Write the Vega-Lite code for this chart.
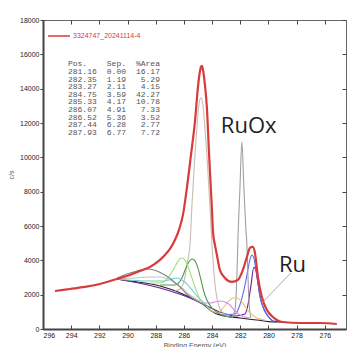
{
  "$schema": "https://vega.github.io/schema/vega-lite/v6.json",
  "width": 303,
  "height": 309,
  "autosize": "none",
  "padding": {"left": 43, "top": 20, "right": 1, "bottom": 18},
  "background": "white",
  "config": {
    "view": {"stroke": "#666", "strokeWidth": 1},
    "axis": {"labelFont": "Liberation Sans", "labelFontSize": 7, "labelColor": "#222", "titleFont": "Liberation Sans", "titleFontSize": 7, "titleFontWeight": "normal", "titleColor": "#444", "grid": false, "domainColor": "#444", "tickColor": "#444"}
  },
  "datasets": {
    "lines": [
      {"s": "3324747_20241114-4", "be": 295.15, "cps": 2215}, {"s": "3324747_20241114-4", "be": 294.09, "cps": 2332}, {"s": "3324747_20241114-4", "be": 293.02, "cps": 2449}, {"s": "3324747_20241114-4", "be": 291.96, "cps": 2624}, {"s": "3324747_20241114-4", "be": 290.75, "cps": 2915}, {"s": "3324747_20241114-4", "be": 289.83, "cps": 3148}, {"s": "3324747_20241114-4", "be": 289.12, "cps": 3381}, {"s": "3324747_20241114-4", "be": 288.41, "cps": 3615}, {"s": "3324747_20241114-4", "be": 287.70, "cps": 4023}, {"s": "3324747_20241114-4", "be": 287.35, "cps": 4314}, {"s": "3324747_20241114-4", "be": 286.99, "cps": 4664}, {"s": "3324747_20241114-4", "be": 286.64, "cps": 5189}, {"s": "3324747_20241114-4", "be": 286.35, "cps": 5772}, {"s": "3324747_20241114-4", "be": 286.07, "cps": 6646}, {"s": "3324747_20241114-4", "be": 285.79, "cps": 8220}, {"s": "3324747_20241114-4", "be": 285.50, "cps": 10144}, {"s": "3324747_20241114-4", "be": 285.22, "cps": 12068}, {"s": "3324747_20241114-4", "be": 285.01, "cps": 14050}, {"s": "3324747_20241114-4", "be": 284.87, "cps": 14983}, {"s": "3324747_20241114-4", "be": 284.79, "cps": 15275}, {"s": "3324747_20241114-4", "be": 284.72, "cps": 15333}, {"s": "3324747_20241114-4", "be": 284.65, "cps": 15100}, {"s": "3324747_20241114-4", "be": 284.51, "cps": 14225}, {"s": "3324747_20241114-4", "be": 284.37, "cps": 12884}, {"s": "3324747_20241114-4", "be": 284.23, "cps": 10436}, {"s": "3324747_20241114-4", "be": 284.16, "cps": 9270}, {"s": "3324747_20241114-4", "be": 284.01, "cps": 6938}, {"s": "3324747_20241114-4", "be": 283.94, "cps": 5655}, {"s": "3324747_20241114-4", "be": 283.80, "cps": 4897}, {"s": "3324747_20241114-4", "be": 283.66, "cps": 4314}, {"s": "3324747_20241114-4", "be": 283.45, "cps": 3440}, {"s": "3324747_20241114-4", "be": 283.09, "cps": 2973}, {"s": "3324747_20241114-4", "be": 282.60, "cps": 2740}, {"s": "3324747_20241114-4", "be": 282.17, "cps": 2857}, {"s": "3324747_20241114-4", "be": 281.82, "cps": 3440}, {"s": "3324747_20241114-4", "be": 281.53, "cps": 4198}, {"s": "3324747_20241114-4", "be": 281.32, "cps": 4722}, {"s": "3324747_20241114-4", "be": 281.11, "cps": 4781}, {"s": "3324747_20241114-4", "be": 280.96, "cps": 4431}, {"s": "3324747_20241114-4", "be": 280.75, "cps": 3032}, {"s": "3324747_20241114-4", "be": 280.47, "cps": 1866}, {"s": "3324747_20241114-4", "be": 280.11, "cps": 1108}, {"s": "3324747_20241114-4", "be": 279.69, "cps": 700}, {"s": "3324747_20241114-4", "be": 278.98, "cps": 408}, {"s": "3324747_20241114-4", "be": 277.77, "cps": 350}, {"s": "3324747_20241114-4", "be": 276.35, "cps": 350}, {"s": "3324747_20241114-4", "be": 275.15, "cps": 292},

      {"s": "bg", "be": 290.75, "cps": 2915}, {"s": "bg", "be": 289.83, "cps": 2798}, {"s": "bg", "be": 288.77, "cps": 2682}, {"s": "bg", "be": 287.70, "cps": 2507}, {"s": "bg", "be": 286.78, "cps": 2274}, {"s": "bg", "be": 285.93, "cps": 1982}, {"s": "bg", "be": 285.22, "cps": 1691}, {"s": "bg", "be": 284.65, "cps": 1458}, {"s": "bg", "be": 284.16, "cps": 1108}, {"s": "bg", "be": 283.45, "cps": 816}, {"s": "bg", "be": 282.03, "cps": 641}, {"s": "bg", "be": 280.82, "cps": 525}, {"s": "bg", "be": 279.69, "cps": 408}, {"s": "bg", "be": 278.98, "cps": 408},

      {"s": "purple", "be": 290.75, "cps": 2915}, {"s": "purple", "be": 287.70, "cps": 2390}, {"s": "purple", "be": 285.57, "cps": 1807}, {"s": "purple", "be": 284.37, "cps": 1341}, {"s": "purple", "be": 283.45, "cps": 991}, {"s": "purple", "be": 282.38, "cps": 758}, {"s": "purple", "be": 281.67, "cps": 875}, {"s": "purple", "be": 281.46, "cps": 1400}, {"s": "purple", "be": 281.25, "cps": 2500}, {"s": "purple", "be": 281.04, "cps": 3600}, {"s": "purple", "be": 280.89, "cps": 3400}, {"s": "purple", "be": 280.75, "cps": 2680}, {"s": "purple", "be": 280.61, "cps": 1924}, {"s": "purple", "be": 280.33, "cps": 1166}, {"s": "purple", "be": 280.04, "cps": 758}, {"s": "purple", "be": 279.69, "cps": 466}, {"s": "purple", "be": 278.98, "cps": 408},

      {"s": "281.16", "be": 283.45, "cps": 816}, {"s": "281.16", "be": 282.38, "cps": 875}, {"s": "281.16", "be": 282.03, "cps": 1399}, {"s": "281.16", "be": 281.74, "cps": 2274}, {"s": "281.16", "be": 281.53, "cps": 3148}, {"s": "281.16", "be": 281.32, "cps": 4023}, {"s": "281.16", "be": 281.18, "cps": 4314}, {"s": "281.16", "be": 281.04, "cps": 4139}, {"s": "281.16", "be": 280.89, "cps": 3440}, {"s": "281.16", "be": 280.75, "cps": 2682}, {"s": "281.16", "be": 280.61, "cps": 1924}, {"s": "281.16", "be": 280.33, "cps": 1166}, {"s": "281.16", "be": 280.04, "cps": 758}, {"s": "281.16", "be": 279.69, "cps": 466},

      {"s": "thin", "be": 282.60, "cps": 641}, {"s": "thin", "be": 282.38, "cps": 1108}, {"s": "thin", "be": 282.24, "cps": 3148}, {"s": "thin", "be": 282.17, "cps": 5189}, {"s": "thin", "be": 282.03, "cps": 8104}, {"s": "thin", "be": 281.89, "cps": 10902}, {"s": "thin", "be": 281.74, "cps": 8104}, {"s": "thin", "be": 281.60, "cps": 5772}, {"s": "thin", "be": 281.53, "cps": 4897}, {"s": "thin", "be": 281.46, "cps": 3148}, {"s": "thin", "be": 281.39, "cps": 1691}, {"s": "thin", "be": 281.25, "cps": 641},

      {"s": "282.35", "be": 284.16, "cps": 1108}, {"s": "282.35", "be": 283.59, "cps": 933}, {"s": "282.35", "be": 283.23, "cps": 1224}, {"s": "282.35", "be": 282.88, "cps": 1574}, {"s": "282.35", "be": 282.52, "cps": 1807}, {"s": "282.35", "be": 282.24, "cps": 1807}, {"s": "282.35", "be": 281.89, "cps": 1574}, {"s": "282.35", "be": 281.60, "cps": 1224}, {"s": "282.35", "be": 281.32, "cps": 933}, {"s": "282.35", "be": 280.82, "cps": 641}, {"s": "282.35", "be": 280.26, "cps": 525},

      {"s": "283.27", "be": 285.22, "cps": 1691}, {"s": "283.27", "be": 284.65, "cps": 1516}, {"s": "283.27", "be": 284.16, "cps": 1516}, {"s": "283.27", "be": 283.80, "cps": 1574}, {"s": "283.27", "be": 283.45, "cps": 1632}, {"s": "283.27", "be": 283.09, "cps": 1574}, {"s": "283.27", "be": 282.74, "cps": 1399}, {"s": "283.27", "be": 282.38, "cps": 1049}, {"s": "283.27", "be": 282.03, "cps": 816}, {"s": "283.27", "be": 281.32, "cps": 641},

      {"s": "284.75", "be": 286.64, "cps": 2215}, {"s": "284.75", "be": 286.28, "cps": 2332}, {"s": "284.75", "be": 286.00, "cps": 2740}, {"s": "284.75", "be": 285.79, "cps": 3731}, {"s": "284.75", "be": 285.57, "cps": 4897}, {"s": "284.75", "be": 285.43, "cps": 7229}, {"s": "284.75", "be": 285.22, "cps": 10144}, {"s": "284.75", "be": 285.08, "cps": 11718}, {"s": "284.75", "be": 284.94, "cps": 13059}, {"s": "284.75", "be": 284.79, "cps": 13467}, {"s": "284.75", "be": 284.65, "cps": 13059}, {"s": "284.75", "be": 284.51, "cps": 11718}, {"s": "284.75", "be": 284.37, "cps": 10144}, {"s": "284.75", "be": 284.16, "cps": 7229}, {"s": "284.75", "be": 284.01, "cps": 4897}, {"s": "284.75", "be": 283.87, "cps": 3323}, {"s": "284.75", "be": 283.73, "cps": 2157}, {"s": "284.75", "be": 283.52, "cps": 1341}, {"s": "284.75", "be": 283.23, "cps": 933}, {"s": "284.75", "be": 282.74, "cps": 700},

      {"s": "285.33", "be": 287.70, "cps": 2565}, {"s": "285.33", "be": 286.64, "cps": 2565}, {"s": "285.33", "be": 286.14, "cps": 2973}, {"s": "285.33", "be": 285.86, "cps": 3556}, {"s": "285.33", "be": 285.65, "cps": 3906}, {"s": "285.33", "be": 285.43, "cps": 4081}, {"s": "285.33", "be": 285.22, "cps": 3964}, {"s": "285.33", "be": 285.01, "cps": 3556}, {"s": "285.33", "be": 284.79, "cps": 2857}, {"s": "285.33", "be": 284.58, "cps": 2157}, {"s": "285.33", "be": 284.37, "cps": 1691}, {"s": "285.33", "be": 284.01, "cps": 1224}, {"s": "285.33", "be": 283.45, "cps": 875}, {"s": "285.33", "be": 282.74, "cps": 700},

      {"s": "286.07", "be": 288.41, "cps": 2682}, {"s": "286.07", "be": 287.70, "cps": 2682}, {"s": "286.07", "be": 287.21, "cps": 2915}, {"s": "286.07", "be": 286.85, "cps": 3323}, {"s": "286.07", "be": 286.57, "cps": 3731}, {"s": "286.07", "be": 286.28, "cps": 4081}, {"s": "286.07", "be": 286.14, "cps": 4139}, {"s": "286.07", "be": 285.93, "cps": 4023}, {"s": "286.07", "be": 285.72, "cps": 3673}, {"s": "286.07", "be": 285.50, "cps": 3148}, {"s": "286.07", "be": 285.29, "cps": 2624}, {"s": "286.07", "be": 285.08, "cps": 2157}, {"s": "286.07", "be": 284.87, "cps": 1749}, {"s": "286.07", "be": 284.51, "cps": 1399}, {"s": "286.07", "be": 284.16, "cps": 1108},

      {"s": "286.52", "be": 290.75, "cps": 2915}, {"s": "286.52", "be": 288.41, "cps": 2798}, {"s": "286.52", "be": 287.35, "cps": 2798}, {"s": "286.52", "be": 286.85, "cps": 2915}, {"s": "286.52", "be": 286.50, "cps": 2973}, {"s": "286.52", "be": 286.14, "cps": 2857}, {"s": "286.52", "be": 285.79, "cps": 2624}, {"s": "286.52", "be": 285.43, "cps": 2274}, {"s": "286.52", "be": 285.08, "cps": 1924}, {"s": "286.52", "be": 284.65, "cps": 1574}, {"s": "286.52", "be": 284.16, "cps": 1166},

      {"s": "287.44", "be": 290.75, "cps": 2915}, {"s": "287.44", "be": 289.48, "cps": 2973}, {"s": "287.44", "be": 288.41, "cps": 3032}, {"s": "287.44", "be": 287.70, "cps": 3032}, {"s": "287.44", "be": 287.13, "cps": 2915}, {"s": "287.44", "be": 286.64, "cps": 2682}, {"s": "287.44", "be": 286.14, "cps": 2390}, {"s": "287.44", "be": 285.57, "cps": 1982}, {"s": "287.44", "be": 284.87, "cps": 1632},

      {"s": "287.93", "be": 290.75, "cps": 2973}, {"s": "287.93", "be": 290.04, "cps": 3207}, {"s": "287.93", "be": 289.33, "cps": 3381}, {"s": "287.93", "be": 288.62, "cps": 3498}, {"s": "287.93", "be": 287.91, "cps": 3381}, {"s": "287.93", "be": 287.35, "cps": 3148}, {"s": "287.93", "be": 286.85, "cps": 2857}, {"s": "287.93", "be": 286.28, "cps": 2449}, {"s": "287.93", "be": 285.72, "cps": 1982}, {"s": "287.93", "be": 285.08, "cps": 1632}, {"s": "287.93", "be": 284.37, "cps": 1341}
    ],
    "table": [
      {"row": 0, "pos": "Pos.", "sep": "Sep.", "area": "%Area"},
      {"row": 1, "pos": "281.16", "sep": "0.00", "area": "16.17"},
      {"row": 2, "pos": "282.35", "sep": "1.19", "area": "5.29"},
      {"row": 3, "pos": "283.27", "sep": "2.11", "area": "4.15"},
      {"row": 4, "pos": "284.75", "sep": "3.59", "area": "42.27"},
      {"row": 5, "pos": "285.33", "sep": "4.17", "area": "10.78"},
      {"row": 6, "pos": "286.07", "sep": "4.91", "area": "7.33"},
      {"row": 7, "pos": "286.52", "sep": "5.36", "area": "3.52"},
      {"row": 8, "pos": "287.44", "sep": "6.28", "area": "2.77"},
      {"row": 9, "pos": "287.93", "sep": "6.77", "area": "7.72"}
    ],
    "labels": [
      {"label": "RuOx", "be": 283.38, "cps": 11427},
      {"label": "Ru", "be": 279.26, "cps": 3323}
    ],
    "pointer": [
      {"be": 278.41, "cps": 3265, "be2": 280.40, "cps2": 1574}
    ]
  },
  "resolve": {"scale": {"y": "independent", "color": "independent"}, "axis": {"x": "independent", "y": "independent"}},
  "layer": [
    {
      "data": {"name": "lines"},
      "transform": [{"filter": "datum.s !== '3324747_20241114-4'"}],
      "mark": {"type": "line", "strokeWidth": 1.1, "interpolate": "monotone"},
      "encoding": {
        "x": {"field": "be", "type": "quantitative", "scale": {"domain": [274.5, 296], "reverse": true, "nice": false, "zero": false},
              "axis": {"orient": "bottom", "values": [276, 278, 280, 282, 284, 286, 288, 290, 292, 294, 296], "title": "Binding Energy (eV)", "titleColor": "#555", "domainWidth": 2, "tickSize": -4, "labelPadding": 6, "titlePadding": 3}},
        "y": {"field": "cps", "type": "quantitative", "scale": {"domain": [0, 18000], "nice": false},
              "axis": {"orient": "left", "values": [0, 2000, 4000, 6000, 8000, 10000, 12000, 14000, 16000, 18000], "format": "d", "title": "c/s", "titleColor": "#555", "domainWidth": 2, "tickSize": 3, "labelPadding": 1, "titlePadding": 5}},
        "color": {"field": "s", "type": "nominal",
                  "scale": {"domain": ["bg", "purple", "281.16", "thin", "282.35", "283.27", "284.75", "285.33", "286.07", "286.52", "287.44", "287.93"],
                            "range": ["#222222", "#6a1b9a", "#5b6ee8", "#a0a0a0", "#e6c27a", "#e08ae8", "#c9bdb0", "#4f9a4f", "#9ee07a", "#6fd0d0", "#c8c8b8", "#808080"]},
                  "legend": null}
      }
    },
    {
      "data": {"name": "lines"},
      "transform": [{"filter": "datum.s === '3324747_20241114-4'"}],
      "mark": {"type": "line", "strokeWidth": 2.2, "interpolate": "monotone"},
      "encoding": {
        "x": {"field": "be", "type": "quantitative", "scale": {"domain": [274.5, 296], "reverse": true, "nice": false, "zero": false},
              "axis": {"orient": "top", "values": [276, 278, 280, 282, 284, 286, 288, 290, 292, 294, 296], "labels": false, "title": null, "domain": false, "tickSize": -4}},
        "y": {"field": "cps", "type": "quantitative", "scale": {"domain": [0, 18000], "nice": false},
              "axis": {"orient": "right", "values": [0, 2000, 4000, 6000, 8000, 10000, 12000, 14000, 16000, 18000], "labels": false, "title": null, "domain": false, "tickSize": -4}},
        "color": {"field": "s", "type": "nominal", "scale": {"range": ["#d93a3a"]},
                  "legend": {"orient": "top-left", "title": null, "symbolType": "stroke", "symbolSize": 480, "symbolStrokeWidth": 1.5, "labelFontSize": 7, "labelColor": "#d93a3a", "labelFont": "Liberation Sans", "offset": 4, "padding": 0, "labelOffset": 2, "labelLimit": 300}}
      }
    },
    {
      "data": {"name": "table"},
      "mark": {"type": "text", "align": "left", "baseline": "middle", "font": "Liberation Mono", "fontSize": 8, "color": "#555"},
      "encoding": {
        "x": {"datum": 294.23, "type": "quantitative", "axis": null},
        "y": {"field": "row", "type": "quantitative", "scale": {"domain": [-5.84, 34.82], "reverse": true, "nice": false, "zero": false}, "axis": null},
        "text": {"field": "pos"}
      }
    },
    {
      "data": {"name": "table"},
      "mark": {"type": "text", "align": "right", "baseline": "middle", "font": "Liberation Mono", "fontSize": 8, "color": "#555"},
      "encoding": {
        "x": {"datum": 290.11, "type": "quantitative", "axis": null},
        "y": {"field": "row", "type": "quantitative", "scale": {"domain": [-5.84, 34.82], "reverse": true, "nice": false, "zero": false}, "axis": null},
        "text": {"field": "sep"}
      }
    },
    {
      "data": {"name": "table"},
      "mark": {"type": "text", "align": "right", "baseline": "middle", "font": "Liberation Mono", "fontSize": 8, "color": "#555"},
      "encoding": {
        "x": {"datum": 287.70, "type": "quantitative", "axis": null},
        "y": {"field": "row", "type": "quantitative", "scale": {"domain": [-5.84, 34.82], "reverse": true, "nice": false, "zero": false}, "axis": null},
        "text": {"field": "area"}
      }
    },
    {
      "data": {"name": "pointer"},
      "mark": {"type": "rule", "color": "#999", "strokeWidth": 0.8},
      "encoding": {
        "x": {"field": "be", "type": "quantitative", "axis": null},
        "x2": {"field": "be2"},
        "y": {"field": "cps", "type": "quantitative", "scale": {"domain": [0, 18000], "nice": false}, "axis": null},
        "y2": {"field": "cps2"}
      }
    },
    {
      "data": {"name": "labels"},
      "mark": {"type": "text", "align": "left", "baseline": "alphabetic", "font": "Open Sans", "fontSize": 22, "color": "#222"},
      "encoding": {
        "x": {"field": "be", "type": "quantitative", "axis": null},
        "y": {"field": "cps", "type": "quantitative", "scale": {"domain": [0, 18000], "nice": false}, "axis": null},
        "text": {"field": "label"}
      }
    }
  ]
}
